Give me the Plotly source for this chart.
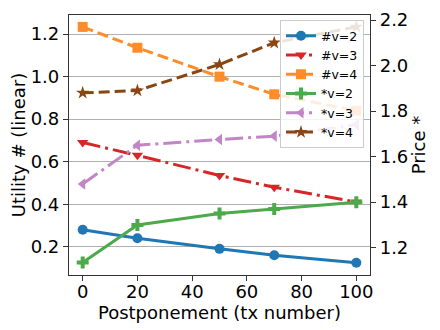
import plotly.graph_objects as go

POSTPONEMENTS = [0, 20, 50, 70, 100]

# UTILITY (LEFT AXIS)
UTILITY_V2 = [0.28, 0.24, 0.19, 0.16, 0.125]
UTILITY_V3 = [0.69, 0.63, 0.535, 0.48, 0.41]
UTILITY_V4 = [1.234, 1.136, 1.0, 0.917, 0.84]

# PRICE (RIGHT AXIS)
PRICE_V2 = [1.135, 1.30, 1.35, 1.37, 1.40]
PRICE_V3 = [1.48, 1.65, 1.675, 1.69, 1.74]
PRICE_V4 = [1.88, 1.89, 2.005, 2.10, 2.17]

X_TICKS = [0, 20, 40, 60, 80, 100]
Y_TICKS = [0.2, 0.4, 0.6, 0.8, 1.0, 1.2]
Y2_TICKS = [1.2, 1.4, 1.6, 1.8, 2.0, 2.2]

FONT = "DejaVu Sans"
DASH = "11px,5px"
DASHDOT = "18px,5px,3px,5px"

series = [
    ("#v=2", UTILITY_V2, "y", "#1f77b4", "solid", "circle"),
    ("#v=3", UTILITY_V3, "y", "#d62728", DASHDOT, "triangle-down"),
    ("#v=4", UTILITY_V4, "y", "#ff8c2a", DASH, "square"),
    ("*v=2", PRICE_V2, "y2", "#4caa4a", "solid", "cross"),
    ("*v=3", PRICE_V3, "y2", "#c285c6", DASHDOT, "triangle-left"),
    ("*v=4", PRICE_V4, "y2", "#8b4513", DASH, "star"),
]

fig = go.Figure()
for name, values, axis, color, dash, symbol in series:
    fig.add_trace(go.Scatter(
        x=POSTPONEMENTS, y=values, yaxis=axis, name=name,
        mode="lines+markers",
        line=dict(color=color, width=3, dash=dash),
        marker=dict(symbol=symbol, size=10, color=color),
    ))

axis_common = dict(
    showline=True, linecolor="#333", linewidth=1.2,
    ticks="outside", ticklen=5, tickcolor="#333",
    tickfont=dict(family=FONT, size=18, color="black"),
    zeroline=False, automargin=False,
)

# the page body has an 8px margin, so the figure is a bit smaller than the window
fig.update_layout(
    width=432, height=322,
    margin=dict(l=61, r=70, t=7, b=55),
    paper_bgcolor="white", plot_bgcolor="white",
    font=dict(family=FONT, size=18, color="black"),
    xaxis=dict(
        range=[-5, 105], tickvals=X_TICKS, mirror=True, showgrid=False,
        ticklabelstandoff=-5,
        title=dict(text="Postponement (tx number)", font=dict(size=18), standoff=0),
        **axis_common,
    ),
    yaxis=dict(
        range=[0.067, 1.29], tickvals=Y_TICKS, tickformat=".1f",
        showgrid=True, gridcolor="#b0b0b0", gridwidth=1,
        title=dict(text="Utility # (linear)", font=dict(size=18), standoff=4),
        **axis_common,
    ),
    yaxis2=dict(
        range=[1.08, 2.222], tickvals=Y2_TICKS, tickformat=".1f",
        overlaying="y", side="right", showgrid=False,
        title=dict(text="Price *", font=dict(size=18), standoff=4),
        **axis_common,
    ),
    legend=dict(
        x=0.98, y=0.98, xanchor="right", yanchor="top",
        bgcolor="rgba(255,255,255,0.85)", bordercolor="#cccccc", borderwidth=1,
        font=dict(family=FONT, size=12.5),
        tracegroupgap=0,
    ),
    showlegend=True,
)

fig.write_html("out.html")
